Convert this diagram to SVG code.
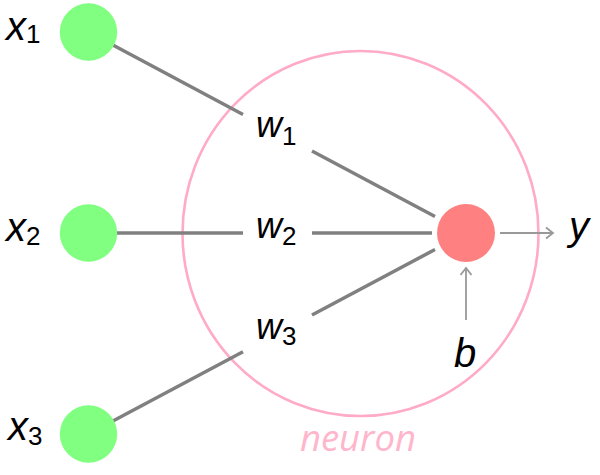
<svg xmlns="http://www.w3.org/2000/svg" width="600" height="475" viewBox="0 0 600 475">
<defs>
<style>
.edge{stroke:#808080;stroke-width:3.5;fill:none}
.arr{stroke:#999999;stroke-width:1.8;fill:none}
.in{fill:#80ff80}
.out{fill:#ff8080}
.lbl{font-family:"Liberation Sans",Arial,sans-serif;fill:#000}
.it{font-style:italic}
.sub{font-size:26px;font-style:normal}
.neuron{fill:none;stroke:#ffaac8;stroke-width:2.6}
.nlbl{font-family:"Open Sans","DejaVu Sans",sans-serif;font-style:italic;font-size:36.5px;fill:#ffb6cc}
</style>
<marker id="head" markerUnits="userSpaceOnUse" markerWidth="14" markerHeight="14" refX="8" refY="7" orient="auto">
<polyline points="1,1.5 8,7 1,12.5" fill="none" stroke="#999999" stroke-width="1.8"/>
</marker>
</defs>
<g id="neuron-boundary">
<ellipse class="neuron" cx="360.5" cy="233.5" rx="178" ry="182.5"/>
<text class="nlbl" x="358" y="451" text-anchor="middle">neuron</text>
</g>
<g id="connectors">
<line class="edge" x1="88.5" y1="32" x2="243" y2="114.5"/>
<line class="edge" x1="312" y1="151" x2="435" y2="216.5"/>
<line class="edge" x1="88.5" y1="233" x2="243" y2="233"/>
<line class="edge" x1="312" y1="233" x2="432" y2="233"/>
<line class="edge" x1="88.5" y1="434" x2="243" y2="351.7"/>
<line class="edge" x1="312" y1="315" x2="435" y2="249.5"/>
<line class="arr" x1="500" y1="233" x2="553" y2="233" marker-end="url(#head)"/>
<line class="arr" x1="466" y1="320" x2="466" y2="268" marker-end="url(#head)"/>
</g>
<g id="x1">
<circle class="in" cx="88.5" cy="32" r="28.7"/>
<text class="lbl" x="6" y="40" font-size="40"><tspan class="it">x</tspan><tspan class="sub" dy="3">1</tspan></text>
</g>
<g id="x2">
<circle class="in" cx="88.5" cy="233" r="28.7"/>
<text class="lbl" x="6" y="241" font-size="40"><tspan class="it">x</tspan><tspan class="sub" dy="4">2</tspan></text>
</g>
<g id="x3">
<circle class="in" cx="88.5" cy="434" r="28.7"/>
<text class="lbl" x="8" y="440" font-size="40"><tspan class="it">x</tspan><tspan class="sub" dy="5">3</tspan></text>
</g>
<g id="w1">
<text class="lbl" x="256" y="137" font-size="36"><tspan class="it">w</tspan><tspan class="sub" dy="8">1</tspan></text>
</g>
<g id="w2">
<text class="lbl" x="256" y="238" font-size="36"><tspan class="it">w</tspan><tspan class="sub" dy="7">2</tspan></text>
</g>
<g id="w3">
<text class="lbl" x="256" y="339" font-size="36"><tspan class="it">w</tspan><tspan class="sub" dy="6">3</tspan></text>
</g>
<g id="sum">
<circle class="out" cx="466" cy="233" r="29"/>
</g>
<g id="y">
<text class="lbl it" x="569" y="240" font-size="40">y</text>
</g>
<g id="b">
<text class="lbl it" x="454" y="367" font-size="40">b</text>
</g>
</svg>
